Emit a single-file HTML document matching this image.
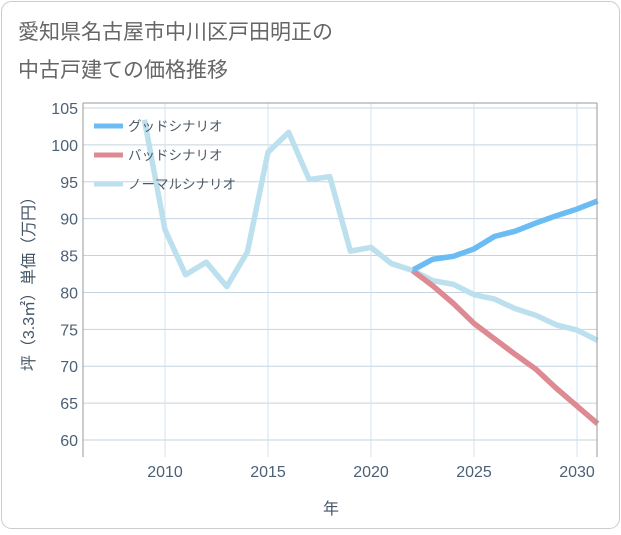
<!DOCTYPE html>
<html><head><meta charset="utf-8"><style>
body{margin:0;background:#fff;}
#wrap{position:relative;width:621px;height:530px;font-family:"Liberation Sans","Noto Sans CJK JP",sans-serif;}
</style></head><body>
<div id="wrap">
<svg id="c" width="621" height="530">
<rect x="1.5" y="1.5" width="618" height="527" rx="10" fill="#fff" stroke="#ccc"/>
<text x="18" y="39" font-size="21" fill="#666">愛知県名古屋市中川区戸田明正の</text>
<text x="18" y="77" font-size="21" fill="#666">中古戸建ての価格推移</text>
<g id="grid"></g><g id="series"></g><g id="axes"></g>
<text x="331" y="514" font-size="16" fill="#445566" text-anchor="middle">年</text>
<text transform="translate(34,280) rotate(-90)" font-size="16" fill="#445566" text-anchor="middle">坪（3.3㎡）単価（万円）</text>
<g id="legend"></g>
</svg></div>
<script>
const years=[2009,2010,2011,2012,2013,2014,2015,2016,2017,2018,2019,2020,2021,2022,2023,2024,2025,2026,2027,2028,2029,2030,2031];
const normal=[103.4,88.5,82.4,84.1,80.8,85.5,99,101.7,95.3,95.7,85.6,86.1,83.9,83.0,81.6,81.1,79.7,79.1,77.8,76.9,75.6,74.9,73.5];
const goodYears=[2022,2023,2024,2025,2026,2027,2028,2029,2030,2031];
const good=[83.0,84.5,84.9,85.9,87.6,88.3,89.4,90.4,91.3,92.4];
const bad=[83.0,80.9,78.5,75.8,73.7,71.6,69.6,67.0,64.6,62.2];
const yTicks=[60,65,70,75,80,85,90,95,100,105];
const xTicks=[2010,2015,2020,2025,2030];
const L=83,R=597,T=103,B=457;
const x=v=>165+(v-2010)*20.6;
const y=v=>440-(v-60)*7.378;
const ns="http://www.w3.org/2000/svg";
function mk(p,t,a){const e=document.createElementNS(ns,t);for(const k in a)e.setAttribute(k,a[k]);p.appendChild(e);return e;}
const g=document.getElementById('grid'),ax=document.getElementById('axes'),s=document.getElementById('series'),lg=document.getElementById('legend');
yTicks.forEach(v=>{const l=mk(g,'line',{x1:L,x2:R,y1:y(v),y2:y(v),stroke:'#c5d3df','stroke-width':1});

const t=mk(ax,'text',{x:78,y:y(v)+6,'font-size':16,fill:'#4d6075','text-anchor':'end'});t.textContent=v;
});
xTicks.forEach(v=>{const l=mk(g,'line',{x1:x(v),x2:x(v),y1:T,y2:B,stroke:'#cfe3ef','stroke-width':1});

const t=mk(ax,'text',{x:x(v),y:477,'font-size':16,fill:'#4d6075','text-anchor':'middle'});t.textContent=v;
});
const fr=mk(ax,'path',{d:`M${L},${T}V${B}M${R},${T}V${B}M${L},${T}H${R}`,stroke:'#999',fill:'none'});

function line(xs,vs,col,name){const p=mk(s,'polyline',{points:xs.map((v,i)=>x(v)+','+y(vs[i])).join(' '),fill:'none',stroke:col,'stroke-width':5.5,'stroke-linejoin':'round'});
}
line(years,normal,'#bde0ee','normal-series-line');
line(goodYears,bad,'#de8a93','bad-series-line');
line(goodYears,good,'#6bbcf2','good-series-line');
line(years.slice(12,14),normal.slice(12,14),'#bde0ee','normal-series-overlap');
[['グッドシナリオ','#6bbcf2'],['バッドシナリオ','#de8a93'],['ノーマルシナリオ','#bde0ee']].forEach((d,i)=>{
const yy=126+i*29;const l=mk(lg,'line',{x1:94,x2:123,y1:yy,y2:yy,stroke:d[1],'stroke-width':5});

const t=mk(lg,'text',{x:128,y:yy+5,'font-size':13.5,fill:'#4d5a66'});t.textContent=d[0];
});
</script></body></html>
